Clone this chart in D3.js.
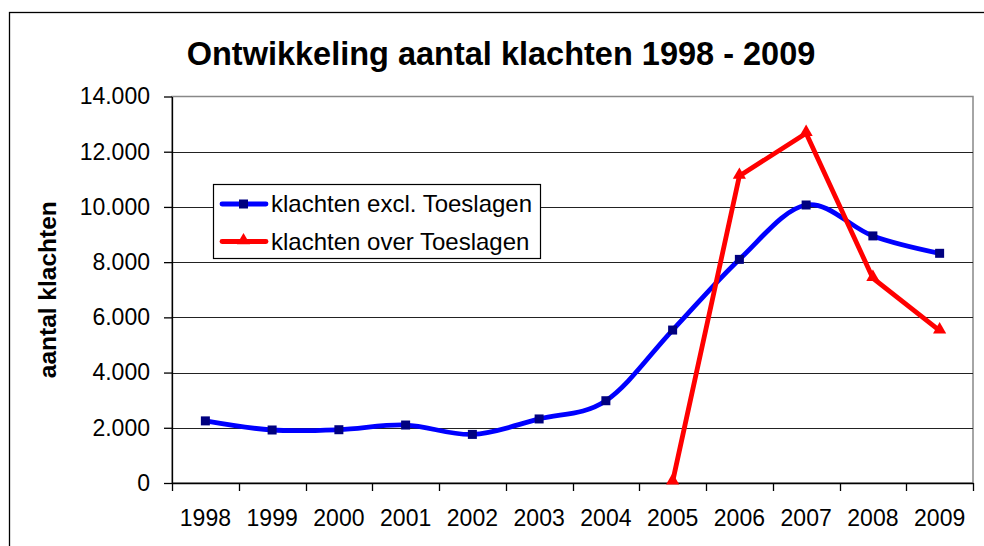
<!DOCTYPE html>
<html>
<head>
<meta charset="utf-8">
<script src="https://cdn.jsdelivr.net/npm/d3@7"></script>
<style>
  body { margin: 0; background: #fff; }
  svg { display: block; font-family: "Liberation Sans", Arial, sans-serif; }
</style>
</head>
<body>
<div id="chart"></div>
<script>
// data
const years = ['1998', '1999', '2000', '2001', '2002', '2003', '2004', '2005', '2006', '2007', '2008', '2009'];
const klachtenExcl = [2250, 1920, 1930, 2100, 1760, 2320, 2980, 5540, 8100, 10070, 8950, 8320];
const klachtenToeslagen = [null, null, null, null, null, null, null, 50, 11120, 12670, 7420, 5520];
const yTicks = [0, 2000, 4000, 6000, 8000, 10000, 12000, 14000];
const seriesNames = ['klachten excl. Toeslagen', 'klachten over Toeslagen'];

const width = 984;
const height = 546;
const plot = { left: 172, right: 973, top: 96.5, bottom: 483 };

const nl = d3.formatLocale({ decimal: ',', thousands: '.', grouping: [3], currency: ['', ''] });
const fmt = nl.format(',');

const svg = d3.select('#chart').append('svg')
  .attr('width', width)
  .attr('height', height);

// outer chart border (cut off at right/bottom)
svg.append('rect')
  .attr('x', 9.5).attr('y', 12.5)
  .attr('width', 1100).attr('height', 700)
  .attr('fill', '#fff')
  .attr('stroke', '#000')
  .attr('stroke-width', 1.3);

const x = d3.scaleBand()
  .domain(years)
  .range([plot.left, plot.right]);

const y = d3.scaleLinear()
  .domain([0, 14000])
  .range([plot.bottom, plot.top]);

const cx = d => x(d) + x.bandwidth() / 2;

// title
svg.append('text')
  .attr('x', 501)
  .attr('y', 65)
  .attr('text-anchor', 'middle')
  .attr('font-size', 32.5)
  .attr('font-weight', 'bold')
  .text('Ontwikkeling aantal klachten 1998 - 2009');

// plot border (grey top / right)
svg.append('rect')
  .attr('x', plot.left).attr('y', plot.top)
  .attr('width', plot.right - plot.left).attr('height', plot.bottom - plot.top)
  .attr('fill', 'none')
  .attr('stroke', '#888')
  .attr('stroke-width', 1.5);

// gridlines
svg.append('g')
  .selectAll('line')
  .data(yTicks.filter(d => d > 0 && d < 14000))
  .enter().append('line')
  .attr('x1', plot.left).attr('x2', plot.right)
  .attr('y1', d => Math.round(y(d)) + 0.5)
  .attr('y2', d => Math.round(y(d)) + 0.5)
  .attr('stroke', '#222')
  .attr('stroke-width', 1);

// y axis
const yAxis = svg.append('g')
  .attr('transform', `translate(${plot.left},0)`)
  .call(d3.axisLeft(y).tickValues(yTicks).tickFormat(fmt).tickSize(8).tickSizeOuter(0).tickPadding(14));
yAxis.attr('font-family', null);
yAxis.selectAll('text').attr('font-size', 23).attr('fill', '#000');
yAxis.selectAll('line, path').attr('stroke', '#000').attr('stroke-width', 1.3);

// x axis: labels centred, ticks on the category boundaries
const xAxis = svg.append('g')
  .attr('transform', `translate(0,${plot.bottom})`)
  .call(d3.axisBottom(x).tickSize(0).tickPadding(27));
xAxis.attr('font-family', null);
xAxis.selectAll('text').attr('font-size', 23).attr('fill', '#000');
xAxis.select('.domain').attr('stroke', '#000').attr('stroke-width', 1.5);

xAxis.selectAll('.bound')
  .data(years.map(d => x(d)).concat([x.range()[1]]))
  .enter().append('line')
  .attr('class', 'bound')
  .attr('x1', d => Math.round(d) + 0.5).attr('x2', d => Math.round(d) + 0.5)
  .attr('y1', 0).attr('y2', 8)
  .attr('stroke', '#000')
  .attr('stroke-width', 1.3);

// blue series (smoothed)
const blueLine = d3.line()
  .x((d, i) => cx(years[i]))
  .y(d => y(d))
  .curve(d3.curveCatmullRom.alpha(0));

svg.append('path')
  .datum(klachtenExcl)
  .attr('d', blueLine)
  .attr('fill', 'none')
  .attr('stroke', '#0000ff')
  .attr('stroke-width', 4.8)
  .attr('stroke-linejoin', 'round');

svg.append('g')
  .selectAll('rect')
  .data(klachtenExcl)
  .enter().append('rect')
  .attr('x', (d, i) => cx(years[i]) - 4.5)
  .attr('y', d => y(d) - 4.5)
  .attr('width', 9).attr('height', 9)
  .attr('fill', '#000080');

// red series (straight)
const redLine = d3.line()
  .defined(d => d != null)
  .x((d, i) => cx(years[i]))
  .y(d => y(d));

svg.append('path')
  .datum(klachtenToeslagen)
  .attr('d', redLine)
  .attr('fill', 'none')
  .attr('stroke', '#ff0000')
  .attr('stroke-width', 4.8)
  .attr('stroke-linejoin', 'miter');

const tri = d3.symbol().type(d3.symbolTriangle).size(75);

svg.append('g')
  .selectAll('path')
  .data(years.map((yr, i) => [yr, klachtenToeslagen[i]]).filter(d => d[1] != null))
  .enter().append('path')
  .attr('transform', d => `translate(${cx(d[0])},${y(d[1]) - 1})`)
  .attr('d', tri)
  .attr('fill', '#ff0000');

// legend
const legend = svg.append('g');
legend.append('rect')
  .attr('x', 213.5).attr('y', 184.5)
  .attr('width', 327).attr('height', 74)
  .attr('fill', '#fff')
  .attr('stroke', '#000')
  .attr('stroke-width', 1.2);

const rows = legend.selectAll('g.row')
  .data(seriesNames)
  .enter().append('g')
  .attr('class', 'row')
  .attr('transform', (d, i) => `translate(0,${i === 0 ? 204 : 241.5})`);

rows.append('line')
  .attr('x1', 222).attr('x2', 266)
  .attr('stroke', (d, i) => i === 0 ? '#0000ff' : '#ff0000')
  .attr('stroke-width', 4.8)
  .attr('stroke-linecap', 'round');

rows.each(function(d, i) {
  const g = d3.select(this);
  if (i === 0) {
    g.append('rect').attr('x', 239).attr('y', -4.5).attr('width', 9).attr('height', 9).attr('fill', '#000080');
  } else {
    g.append('path').attr('transform', 'translate(243.5,-1)').attr('d', tri).attr('fill', '#ff0000');
  }
});

rows.append('text')
  .attr('x', 271)
  .attr('y', 8)
  .attr('font-size', 24)
  .text(d => d);

// y axis title
svg.append('text')
  .attr('transform', `translate(56,${(plot.top + plot.bottom) / 2}) rotate(-90)`)
  .attr('text-anchor', 'middle')
  .attr('font-size', 24.5)
  .attr('font-weight', 'bold')
  .text('aantal klachten');
</script>
</body>
</html>
